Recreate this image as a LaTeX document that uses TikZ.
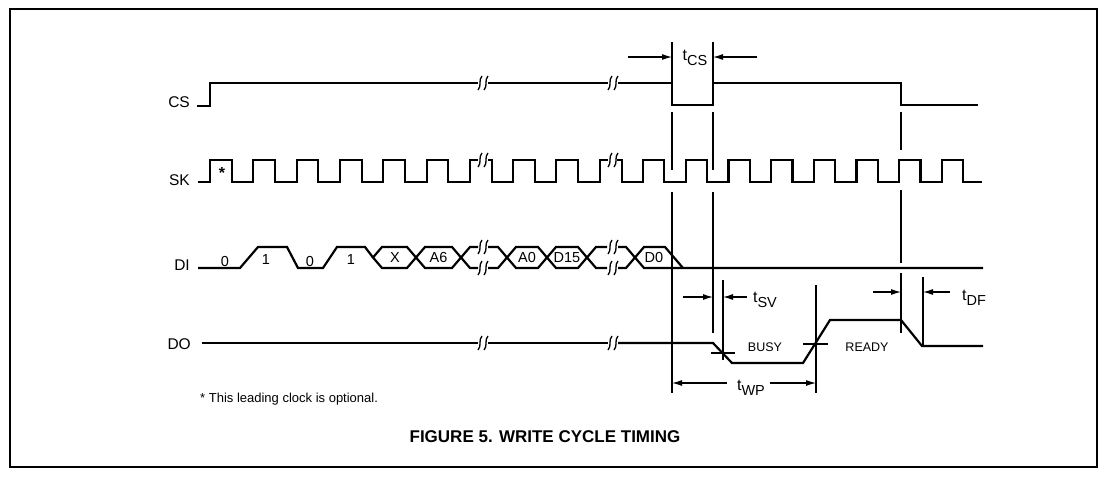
\documentclass[tikz,border=0pt]{standalone}
\usepackage{fontspec}
\setmainfont{Liberation Sans}
\usetikzlibrary{arrows.meta}
\newcommand{\tsub}[1]{t\raisebox{-5pt}{\fontsize{14.5}{15}\selectfont #1}}

\begin{document}
\begin{tikzpicture}[x=1pt, y=-1pt,
        sig/.style={line width=2.2pt},
        ext/.style={line width=1.1pt},
        dim/.style={line width=1.1pt, -{Latex[length=10pt, width=6pt]}},
        lbl/.style={anchor=base east, inner sep=0pt, font=\fontsize{15.5}{17}\selectfont},
        cell/.style={inner sep=0pt, font=\fontsize{14.5}{15}\selectfont},
        tlab/.style={anchor=base, inner sep=0pt, font=\fontsize{16}{17}\selectfont},
        brk/.pic={\draw[line width=1.3pt] (-5,7) .. controls (-1,3) and (-5,-3) .. (-1,-7);
                  \draw[line width=1.3pt] (1,7) .. controls (5,3) and (1,-3) .. (5,-7);}
    ]
        \useasboundingbox (0,0) rectangle (1108,480);
        \draw[line width=1.2pt] (10,9) rectangle (1097,467);

        % signal names
        \node[lbl] (cs) at (190,107) {CS};
        \node[lbl] (sk) at (190,185) {SK};
        \node[lbl] (din) at (190,270) {DI};
        \node[lbl] (dout) at (191,349) {DO};

        % CS
        \draw[sig] (197,106) -- (210,106) -- (210,83) -- (478,83);
        \draw[sig] (488,83) -- (608,83);
        \draw[sig] (618,83) -- (672,83) -- (672,105) -- (713,105) -- (713,83) -- (901,83) -- (901,105) -- (978,105);

        % SK
        \draw[sig] (198,182) -- (210,182) \foreach \k in {1,...,6} { -- ++(0,-22) -- ++(21.67,0) -- ++(0,22) -- ++(21.67,0) } -- ++(0,-22) -- (478,160);
        \draw[sig] (488,160) -- (492,160) -- (492,182) -- (513,182) \foreach \k in {1,2} { -- ++(0,-22) -- ++(21.67,0) -- ++(0,22) -- ++(21.67,0) } -- ++(0,-22) -- (608,160);
        \draw[sig] (617,160) -- (622,160) -- (622,182) -- (643,182) \foreach \k in {1,...,7} { -- ++(0,-22) -- ++(21.35,0) -- ++(0,22) -- ++(21.35,0) } -- ++(0,-22) -- ++(21,0) -- ++(0,22) -- (982,182);
        \node[inner sep=0pt, font=\fontsize{16}{16}\selectfont\bfseries] (star) at (222,173) {*};

        % DI
        \draw[sig] (198,268) -- (240,268) -- (258,247) -- (287,247) -- (298,268) -- (323,268) -- (337,247) -- (365,247) -- (373,257.5);
        \draw[sig] (373,257.5) -- (382,247) -- (407,247) -- (416,257.5) -- (407,268) -- (382,268) -- cycle;
        \draw[sig] (416,257.5) -- (425,247) -- (452,247) -- (461,257.5) -- (452,268) -- (425,268) -- cycle;
        \draw[sig] (478,247) -- (470,247) -- (461,257.5) -- (470,268) -- (478,268);
        \draw[sig] (488,247) -- (498,247) -- (507,257.5) -- (498,268) -- (488,268);
        \draw[sig] (507,257.5) -- (516,247) -- (538,247) -- (547,257.5) -- (538,268) -- (516,268) -- cycle;
        \draw[sig] (547,257.5) -- (556,247) -- (578,247) -- (587,257.5) -- (578,268) -- (556,268) -- cycle;
        \draw[sig] (607,247) -- (596,247) -- (587,257.5) -- (596,268) -- (607,268);
        \draw[sig] (618,247) -- (626,247) -- (635,257.5) -- (626,268) -- (618,268);
        \draw[sig] (983,268) -- (644,268) -- (635,257.5) -- (644,247) -- (665,247) -- (683,268);
        \node[cell] (b0) at (225,262) {0};
        \node[cell] (b1) at (266,260) {1};
        \node[cell] (b2) at (310,262) {0};
        \node[cell] (b3) at (351,260) {1};
        \node[cell] (cx) at (395,258) {X};
        \node[cell] (ca6) at (438.5,258) {A6};
        \node[cell] (ca0) at (527,258) {A0};
        \node[cell] (cd15) at (567,258) {D15};
        \node[cell] (cd0) at (654,258) {D0};

        % DO
        \draw[sig] (202,343) -- (478,343);
        \draw[sig] (488,343) -- (608,343);
        \draw[sig] (618,343) -- (713,343) -- (732,363) -- (803,363) -- (830,320) -- (901,320) -- (922,346) -- (983,346);
        \node[cell, font=\fontsize{12.5}{13}\selectfont] (busy) at (765,347) {BUSY};
        \node[cell, font=\fontsize{12.5}{13}\selectfont] (ready) at (867,347) {READY};

        % breaks
        \foreach \y in {83,160,247,268,343} {
            \pic at (483,\y) {brk};
            \pic at (613,\y) {brk};
        }

        % extension lines
        \coordinate (xa) at (672,42);
        \coordinate (xb) at (713,42);
        \coordinate (xc) at (901,112);
        \coordinate (xd) at (723,280);
        \coordinate (xe) at (816,285);
        \coordinate (xf) at (923,277);
        \draw[ext] (xa) -- (672,83) (672,112) -- (672,170) (672,192) -- (672,393);
        \draw[ext] (xb) -- (713,83) (713,112) -- (713,170) (713,192) -- (713,333);
        \draw[ext] (xc) -- (901,150) (901,190) -- (901,263) (901,273) -- (901,333);
        \draw[ext] (xd) -- (723,360);
        \draw[ext] (xe) -- (816,393);
        \draw[ext] (xf) -- (923,347);
        \draw[ext] (711,353) -- (735,353);
        \draw[ext] (803,344) -- (828,344);

        % timing
        \node[tlab] (tcs) at (695,60) {\tsub{CS}};
        \node[tlab] (tsv) at (765,302) {\tsub{SV}};
        \node[tlab] (tdf) at (974,300) {\tsub{DF}};
        \node[tlab] (twp) at (751,390) {\tsub{WP}};
        \coordinate (tcsL) at (628,57);
        \coordinate (tcsR) at (757,57);
        \coordinate (tsvL) at (683,297);
        \coordinate (tsvR) at (747,297);
        \coordinate (tdfL) at (873,292);
        \coordinate (tdfR) at (950,292);
        \coordinate (twpL) at (727,383);
        \coordinate (twpR) at (770,383);
        \draw[dim] (tcsL) -- (xa |- tcsL);
        \draw[dim] (tcsR) -- (xb |- tcsR);
        \draw[dim] (tsvL) -- (xb |- tsvL);
        \draw[dim] (tsvR) -- (xd |- tsvR);
        \draw[dim] (tdfL) -- (xc |- tdfL);
        \draw[dim] (tdfR) -- (xf |- tdfR);
        \draw[dim] (twpL) -- (xa |- twpL);
        \draw[dim] (twpR) -- (xe |- twpR);

        \node[anchor=base west, inner sep=0pt, font=\fontsize{13}{15}\selectfont] (note) at (200,402) {* This leading clock is optional.};
        \node[anchor=base, inner sep=0pt, font=\fontsize{17}{20}\selectfont\bfseries] (caption) at (545,442) {FIGURE 5. WRITE CYCLE TIMING};
    \end{tikzpicture}
\end{document}
